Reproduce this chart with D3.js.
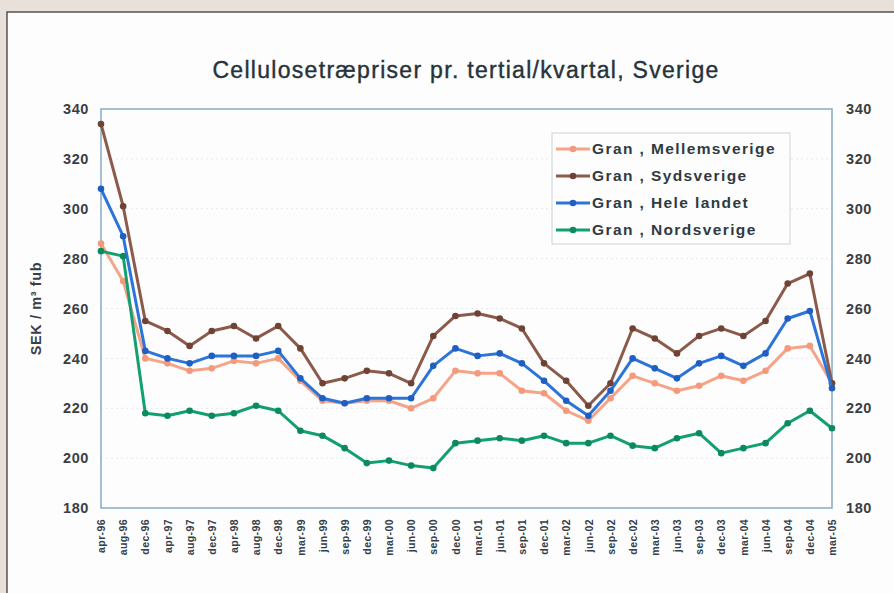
<!DOCTYPE html>
<html>
<head>
<meta charset="UTF-8">
<title>Cellulosetræpriser pr. tertial/kvartal, Sverige</title>
<script src="https://d3js.org/d3.v7.min.js"></script>
<style>
  body { margin: 0; padding: 0; background: #e7e1d9; font-family: Arial, "Liberation Sans", sans-serif; }
  svg { display: block; }
</style>
</head>
<body>
<div id="chart"></div>
<script>
// Perioder (tertial til 1998, derefter kvartal)
const perioder = ["apr-96","aug-96","dec-96","apr-97","aug-97","dec-97","apr-98","aug-98","dec-98",
  "mar-99","jun-99","sep-99","dec-99","mar-00","jun-00","sep-00","dec-00","mar-01","jun-01","sep-01",
  "dec-01","mar-02","jun-02","sep-02","dec-02","mar-03","jun-03","sep-03","dec-03","mar-04","jun-04",
  "sep-04","dec-04","mar-05"];

const mellemsverige = [286,271,240,238,235,236,239,238,240,231,223,222,223,223,220,224,235,234,234,227,
  226,219,215,224,233,230,227,229,233,231,235,244,245,230];
const sydsverige = [334,301,255,251,245,251,253,248,253,244,230,232,235,234,230,249,257,258,256,252,
  238,231,221,230,252,248,242,249,252,249,255,270,274,230];
const heleLandet = [308,289,243,240,238,241,241,241,243,232,224,222,224,224,224,237,244,241,242,238,
  231,223,217,227,240,236,232,238,241,237,242,256,259,228];
const nordsverige = [283,281,218,217,219,217,218,221,219,211,209,204,198,199,197,196,206,207,208,207,
  209,206,206,209,205,204,208,210,202,204,206,214,219,212];

const yTicks = [180,200,220,240,260,280,300,320,340];

const serier = [
  { navn: "Gran , Mellemsverige", data: mellemsverige, farve: "#f5a488", punkt: "#f39a7c" },
  { navn: "Gran , Sydsverige",    data: sydsverige,    farve: "#8c5a4b", punkt: "#6e4234" },
  { navn: "Gran , Hele landet",   data: heleLandet,    farve: "#2d74d8", punkt: "#1f5fc0" },
  { navn: "Gran , Nordsverige",   data: nordsverige,   farve: "#13a070", punkt: "#0c8a5c" }
];

const width = 894, height = 593;
const m = { left: 101, right: 62, top: 109, bottom: 85 };

const svg = d3.select("#chart").append("svg")
  .attr("width", width).attr("height", height);

// hvidt panel med ramme
svg.append("rect")
  .attr("x", 7).attr("y", 12).attr("width", width + 10).attr("height", height + 10)
  .attr("fill", "#fdfdfd").attr("stroke", "#55524e").attr("stroke-width", 1.5);

const x = d3.scalePoint().domain(perioder).range([m.left, width - m.right]);
const y = d3.scaleLinear().domain([180, 340]).range([height - m.bottom, m.top]);

// gitterlinjer
svg.append("g").selectAll("line").data(yTicks.slice(1, -1)).join("line")
  .attr("x1", m.left).attr("x2", width - m.right)
  .attr("y1", d => y(d)).attr("y2", d => y(d))
  .attr("stroke", "#e6e8ec").attr("stroke-width", 1).attr("stroke-dasharray", "2,3");

// ramme om plotområde
svg.append("rect")
  .attr("x", m.left).attr("y", m.top)
  .attr("width", width - m.right - m.left).attr("height", height - m.bottom - m.top)
  .attr("fill", "none").attr("stroke", "#86aac8").attr("stroke-width", 1.5);

// akser
const yLeft = svg.append("g").attr("transform", `translate(${m.left},0)`)
  .call(d3.axisLeft(y).tickValues(yTicks).tickSize(0).tickPadding(12));
const yRight = svg.append("g").attr("transform", `translate(${width - m.right},0)`)
  .call(d3.axisRight(y).tickValues(yTicks).tickSize(0).tickPadding(14));
[yLeft, yRight].forEach(g => {
  g.select(".domain").remove();
  g.selectAll("text").attr("font-size", 14.5).attr("font-weight", "bold").attr("fill", "#3a3e44")
    .attr("letter-spacing", 0.6);
});

const xAxis = svg.append("g").attr("transform", `translate(0,${height - m.bottom})`)
  .call(d3.axisBottom(x).tickSize(0).tickPadding(0));
xAxis.select(".domain").remove();
xAxis.selectAll("text")
  .attr("font-size", 10.5).attr("font-weight", "bold").attr("fill", "#34404a")
  .attr("letter-spacing", 0.4)
  .attr("text-anchor", "end")
  .attr("transform", "rotate(-90)")
  .attr("x", -11).attr("y", 0).attr("dy", "0.35em");

// y-akse titel
svg.append("text")
  .attr("transform", `translate(41,${(m.top + height - m.bottom) / 2}) rotate(-90)`)
  .attr("text-anchor", "middle").attr("font-size", 14.5).attr("font-weight", "bold").attr("fill", "#3a3e44")
  .attr("letter-spacing", 0.6)
  .text("SEK / m³ fub");

// titel
svg.append("text")
  .attr("x", 466).attr("y", 78).attr("text-anchor", "middle")
  .attr("font-size", 23).attr("fill", "#27333b").attr("letter-spacing", 1.3)
  .attr("stroke", "#27333b").attr("stroke-width", 0.4)
  .text("Cellulosetræpriser pr. tertial/kvartal, Sverige");

// linjer
const line = d3.line().x((d, i) => x(perioder[i])).y(d => y(d));
serier.forEach(s => {
  const g = svg.append("g");
  g.append("path").datum(s.data).attr("d", line)
    .attr("fill", "none").attr("stroke", s.farve).attr("stroke-width", 3)
    .attr("stroke-linejoin", "round");
  g.selectAll("circle").data(s.data).join("circle")
    .attr("cx", (d, i) => x(perioder[i])).attr("cy", d => y(d))
    .attr("r", 3.3).attr("fill", s.punkt);
});

// legende
const lg = svg.append("g").attr("transform", "translate(552,133)");
lg.append("rect").attr("width", 238).attr("height", 111)
  .attr("fill", "#fdfdfd").attr("stroke", "#c9d4de").attr("stroke-width", 1);
serier.forEach((s, i) => {
  const yy = 16 + i * 27;
  lg.append("line").attr("x1", 4).attr("x2", 38).attr("y1", yy).attr("y2", yy)
    .attr("stroke", s.farve).attr("stroke-width", 3);
  lg.append("circle").attr("cx", 21).attr("cy", yy).attr("r", 3.3).attr("fill", s.punkt);
  lg.append("text").attr("x", 40).attr("y", yy).attr("dy", "0.35em")
    .attr("font-size", 15.5).attr("font-weight", "bold").attr("fill", "#2f3a42")
    .attr("letter-spacing", 1.4)
    .text(s.navn);
});
</script>
</body>
</html>
